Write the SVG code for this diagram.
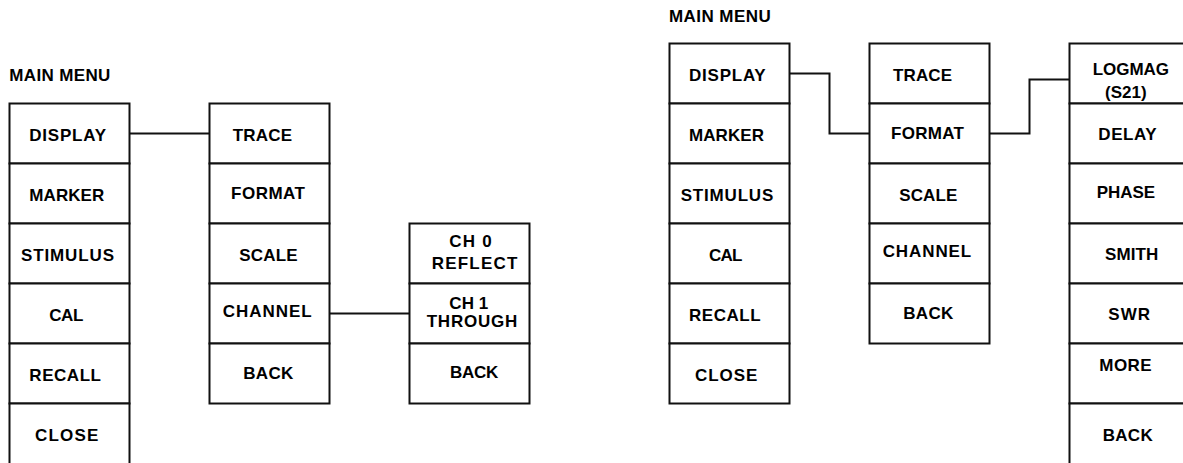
<svg xmlns="http://www.w3.org/2000/svg" width="1183" height="463" viewBox="0 0 1183 463">
<style>
.box{fill:#fff;stroke:#111;stroke-width:2}
.lbl{font-family:"Liberation Sans",Arial,sans-serif;font-weight:bold;font-size:17px;fill:#000}
.conn{fill:none;stroke:#111;stroke-width:2}
</style>
<rect width="1183" height="463" fill="#fff"/>
<g id="connectors">
<path class="conn" d="M129.5 133.5H209.5"/>
<path class="conn" d="M329.5 313.5H409.5"/>
<path class="conn" d="M789.5 73.5H829.5V133.5H869.5"/>
<path class="conn" d="M989.5 133.5H1029.5V79.5H1069.5"/>
</g>
<g id="title-left"><text class="lbl" x="9.3" y="80.5" textLength="101" lengthAdjust="spacing">MAIN MENU</text></g>
<g id="l-display"><rect class="box" x="9.5" y="103.5" width="120" height="60"/><text class="lbl" x="29.3" y="140.5" textLength="76.7" lengthAdjust="spacing">DISPLAY</text></g>
<g id="l-marker"><rect class="box" x="9.5" y="163.5" width="120" height="60"/><text class="lbl" x="29.3" y="201" textLength="75" lengthAdjust="spacing">MARKER</text></g>
<g id="l-stimulus"><rect class="box" x="9.5" y="223.5" width="120" height="60"/><text class="lbl" x="21" y="261" textLength="93" lengthAdjust="spacing">STIMULUS</text></g>
<g id="l-cal"><rect class="box" x="9.5" y="283.5" width="120" height="60"/><text class="lbl" x="49.3" y="320.5" textLength="34" lengthAdjust="spacing">CAL</text></g>
<g id="l-recall"><rect class="box" x="9.5" y="343.5" width="120" height="60"/><text class="lbl" x="29.3" y="380.5" textLength="71.7" lengthAdjust="spacing">RECALL</text></g>
<g id="l-close"><rect class="box" x="9.5" y="403.5" width="120" height="63"/><text class="lbl" x="35" y="440.5" textLength="63.3" lengthAdjust="spacing">CLOSE</text></g>
<g id="l-trace"><rect class="box" x="209.5" y="103.5" width="120" height="60"/><text class="lbl" x="232.7" y="141" textLength="59.3" lengthAdjust="spacing">TRACE</text></g>
<g id="l-format"><rect class="box" x="209.5" y="163.5" width="120" height="60"/><text class="lbl" x="231" y="199" textLength="74" lengthAdjust="spacing">FORMAT</text></g>
<g id="l-scale"><rect class="box" x="209.5" y="223.5" width="120" height="60"/><text class="lbl" x="239.3" y="260.5" textLength="58.4" lengthAdjust="spacing">SCALE</text></g>
<g id="l-channel"><rect class="box" x="209.5" y="283.5" width="120" height="60"/><text class="lbl" x="222.7" y="316.5" textLength="89" lengthAdjust="spacing">CHANNEL</text></g>
<g id="l-back"><rect class="box" x="209.5" y="343.5" width="120" height="60"/><text class="lbl" x="243.3" y="379" textLength="50" lengthAdjust="spacing">BACK</text></g>
<g id="l-ch0"><rect class="box" x="409.5" y="223.5" width="120" height="60"/><text class="lbl" x="449.3" y="247" textLength="42.4" lengthAdjust="spacing">CH 0</text><text class="lbl" x="431.7" y="268.7" textLength="85.6" lengthAdjust="spacing">REFLECT</text></g>
<g id="l-ch1"><rect class="box" x="409.5" y="283.5" width="120" height="60"/><text class="lbl" x="449.3" y="309" textLength="39" lengthAdjust="spacing">CH 1</text><text class="lbl" x="426.7" y="327" textLength="90.6" lengthAdjust="spacing">THROUGH</text></g>
<g id="l-chback"><rect class="box" x="409.5" y="343.5" width="120" height="60"/><text class="lbl" x="450" y="378" textLength="48.3" lengthAdjust="spacing">BACK</text></g>
<g id="title-right"><text class="lbl" x="669" y="21.5" textLength="101.7" lengthAdjust="spacing">MAIN MENU</text></g>
<g id="r-display"><rect class="box" x="669.5" y="43.5" width="120" height="60"/><text class="lbl" x="689" y="80.5" textLength="76.7" lengthAdjust="spacing">DISPLAY</text></g>
<g id="r-marker"><rect class="box" x="669.5" y="103.5" width="120" height="60"/><text class="lbl" x="689" y="141.3" textLength="75" lengthAdjust="spacing">MARKER</text></g>
<g id="r-stimulus"><rect class="box" x="669.5" y="163.5" width="120" height="60"/><text class="lbl" x="680.7" y="201.3" textLength="92.6" lengthAdjust="spacing">STIMULUS</text></g>
<g id="r-cal"><rect class="box" x="669.5" y="223.5" width="120" height="60"/><text class="lbl" x="709" y="260.7" textLength="33.3" lengthAdjust="spacing">CAL</text></g>
<g id="r-recall"><rect class="box" x="669.5" y="283.5" width="120" height="60"/><text class="lbl" x="689" y="320.7" textLength="71.7" lengthAdjust="spacing">RECALL</text></g>
<g id="r-close"><rect class="box" x="669.5" y="343.5" width="120" height="60"/><text class="lbl" x="695" y="380.7" textLength="62.3" lengthAdjust="spacing">CLOSE</text></g>
<g id="r-trace"><rect class="box" x="869.5" y="43.5" width="120" height="60"/><text class="lbl" x="893" y="81.3" textLength="59" lengthAdjust="spacing">TRACE</text></g>
<g id="r-format"><rect class="box" x="869.5" y="103.5" width="120" height="60"/><text class="lbl" x="891" y="139" textLength="73" lengthAdjust="spacing">FORMAT</text></g>
<g id="r-scale"><rect class="box" x="869.5" y="163.5" width="120" height="60"/><text class="lbl" x="899.3" y="200.7" textLength="58" lengthAdjust="spacing">SCALE</text></g>
<g id="r-channel"><rect class="box" x="869.5" y="223.5" width="120" height="60"/><text class="lbl" x="882.7" y="257" textLength="88.5" lengthAdjust="spacing">CHANNEL</text></g>
<g id="r-back"><rect class="box" x="869.5" y="283.5" width="120" height="60"/><text class="lbl" x="903.3" y="319" textLength="50" lengthAdjust="spacing">BACK</text></g>
<g id="r-logmag"><rect class="box" x="1069.5" y="43.5" width="120" height="60"/><text class="lbl" x="1092.7" y="75.3" textLength="76.3" lengthAdjust="spacing">LOGMAG</text><text class="lbl" x="1105" y="97.5" textLength="41.7" lengthAdjust="spacing">(S21)</text></g>
<g id="r-delay"><rect class="box" x="1069.5" y="103.5" width="120" height="60"/><text class="lbl" x="1098.3" y="139.7" textLength="58.4" lengthAdjust="spacing">DELAY</text></g>
<g id="r-phase"><rect class="box" x="1069.5" y="163.5" width="120" height="60"/><text class="lbl" x="1096.7" y="198" textLength="58.3" lengthAdjust="spacing">PHASE</text></g>
<g id="r-smith"><rect class="box" x="1069.5" y="223.5" width="120" height="60"/><text class="lbl" x="1105" y="259.7" textLength="53.3" lengthAdjust="spacing">SMITH</text></g>
<g id="r-swr"><rect class="box" x="1069.5" y="283.5" width="120" height="60"/><text class="lbl" x="1108.3" y="319.7" textLength="41.7" lengthAdjust="spacing">SWR</text></g>
<g id="r-more"><rect class="box" x="1069.5" y="343.5" width="120" height="60"/><text class="lbl" x="1099.3" y="370.5" textLength="52.4" lengthAdjust="spacing">MORE</text></g>
<g id="r-moreback"><rect class="box" x="1069.5" y="403.5" width="120" height="63"/><text class="lbl" x="1102.7" y="441.3" textLength="50" lengthAdjust="spacing">BACK</text></g>
</svg>
